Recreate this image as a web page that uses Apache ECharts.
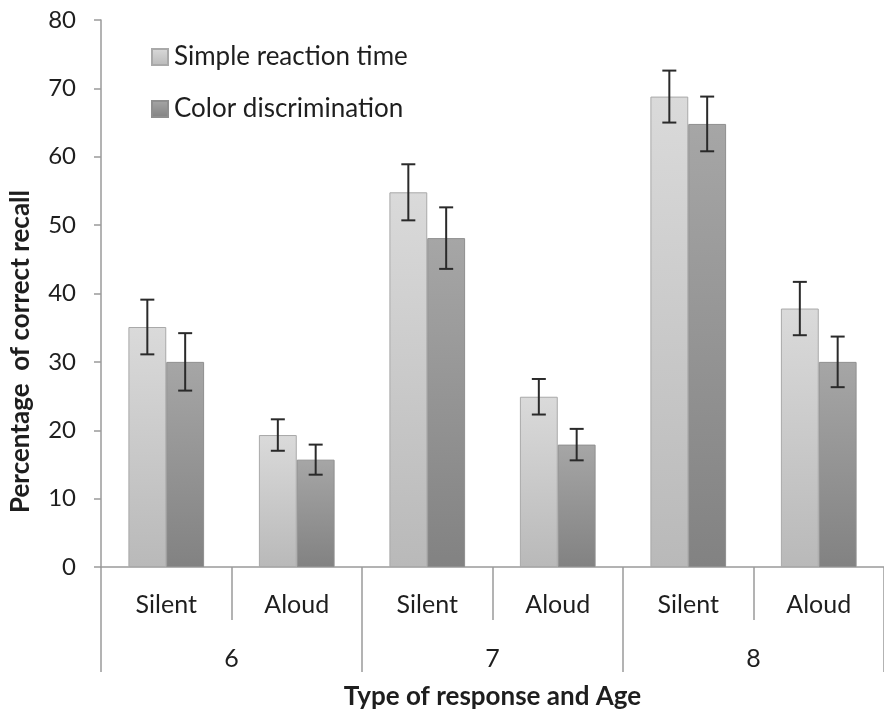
<!DOCTYPE html>
<html><head><meta charset="utf-8">
<script src="https://cdn.jsdelivr.net/npm/echarts@6/dist/echarts.min.js"></script>
<style>html,body{margin:0;padding:0;background:#fff}#c{width:884px;height:715px}</style>
</head><body><div id="c"></div>
<script>
const responseTypes = ['Silent','Aloud','Silent','Aloud','Silent','Aloud'];
const ages = ['6','7','8'];
const yTicks = [0,10,20,30,40,50,60,70,80];
const simpleRT = [35.1, 19.3, 54.8, 24.9, 68.8, 37.8];
const simpleRTErr = [4.0, 2.3, 4.1, 2.6, 3.8, 3.9];
const colorDisc = [30.0, 15.7, 48.1, 17.9, 64.8, 30.0];
const colorDiscErr = [4.2, 2.2, 4.5, 2.3, 4.0, 3.7];
const yAxisTitle = 'Percentage  of correct recall';
const xAxisTitle = 'Type of response and Age';

const FONT = 'Lato';
const GAP = 0.42;
const TXT = '#1e1e1e';
const AX = '#9a9a9a';
const chart = echarts.init(document.getElementById('c'));

function errSeries(name, vals, errs, side) {
  return {
    type: 'custom', name: name + ' err', xAxisIndex: 0, z: 10,
    data: vals.map((v, i) => [i, v, errs[i]]),
    renderItem: function (params, api) {
      const i = api.value(0), v = api.value(1), e = api.value(2);
      const bw = api.size([1, 0])[0] * (1 - GAP) / 2;
      const c = api.coord([i, v]);
      const x = c[0] + side * bw / 2;
      const yHi = api.coord([i, v + e])[1];
      const yLo = api.coord([i, v - e])[1];
      const cap = 7;
      const st = { stroke: '#2a2a2a', lineWidth: 2 };
      return { type: 'group', children: [
        { type: 'line', shape: { x1: x, y1: yHi, x2: x, y2: yLo }, style: st },
        { type: 'line', shape: { x1: x - cap, y1: yHi, x2: x + cap, y2: yHi }, style: st },
        { type: 'line', shape: { x1: x - cap, y1: yLo, x2: x + cap, y2: yLo }, style: st }
      ]};
    },
    tooltip: { show: false }
  };
}

chart.setOption({
  animation: false,
  textStyle: { fontFamily: FONT },
  grid: { left: 101, right: -10, top: 20, bottom: 143, containLabel: false },
  legend: {
    orient: 'vertical', left: 146, top: 39, itemGap: 26,
    itemWidth: 16, itemHeight: 16,
    textStyle: { fontFamily: FONT, fontSize: 26, color: TXT, padding: [0, 0, 0, 1] },
    data: [
      { name: 'Simple reaction time', icon: 'rect' },
      { name: 'Color discrimination', icon: 'rect' }
    ]
  },
  graphic: [{
    type: 'text', left: 8, top: 190, rotation: Math.PI / 2,
    style: { text: yAxisTitle, font: 'bold 26px ' + FONT, fill: TXT }
  }],
  xAxis: [
    {
      type: 'category', data: responseTypes, position: 'bottom',
      axisLine: { show: true, lineStyle: { color: AX, width: 1.5 } },
      axisTick: { show: true, length: 53, lineStyle: { color: AX, width: 1.5 } },
      axisLabel: { margin: 25, fontSize: 25, color: TXT, fontFamily: FONT },
      splitLine: { show: false }
    },
    {
      type: 'category', data: ages, position: 'bottom',
      axisLine: { show: false },
      axisTick: { show: true, length: 105, lineStyle: { color: AX, width: 1.5 } },
      axisLabel: { margin: 79, fontSize: 25, color: TXT, fontFamily: FONT },
      name: xAxisTitle, nameLocation: 'middle', nameGap: 117,
      nameTextStyle: { fontSize: 26, fontWeight: 'bold', color: TXT, fontFamily: FONT }
    }
  ],
  yAxis: {
    type: 'value', min: yTicks[0], max: yTicks[yTicks.length - 1], interval: 10,
    axisLine: { show: true, lineStyle: { color: AX, width: 1.5 } },
    axisTick: { show: true, length: 7, lineStyle: { color: AX, width: 1.5 } },
    axisLabel: { margin: 25, fontSize: 24, color: TXT, fontFamily: FONT },
    splitLine: { show: false }
  },
  series: [
    {
      name: 'Simple reaction time', type: 'bar', data: simpleRT, xAxisIndex: 0,
      barGap: '0%', barCategoryGap: (GAP * 100) + '%',
      itemStyle: {
        color: new echarts.graphic.LinearGradient(0, 0, 0, 1, [
          { offset: 0, color: '#dadada' }, { offset: 1, color: '#b9b9b9' }]),
        borderColor: '#a9a9a9', borderWidth: 1
      }
    },
    {
      name: 'Color discrimination', type: 'bar', data: colorDisc, xAxisIndex: 0,
      barGap: '0%', barCategoryGap: (GAP * 100) + '%',
      itemStyle: {
        color: new echarts.graphic.LinearGradient(0, 0, 0, 1, [
          { offset: 0, color: '#a6a6a6' }, { offset: 1, color: '#828282' }]),
        borderColor: '#8f8f8f', borderWidth: 1
      }
    },
    errSeries('Simple reaction time', simpleRT, simpleRTErr, -1),
    errSeries('Color discrimination', colorDisc, colorDiscErr, 1)
  ]
});
</script></body></html>
